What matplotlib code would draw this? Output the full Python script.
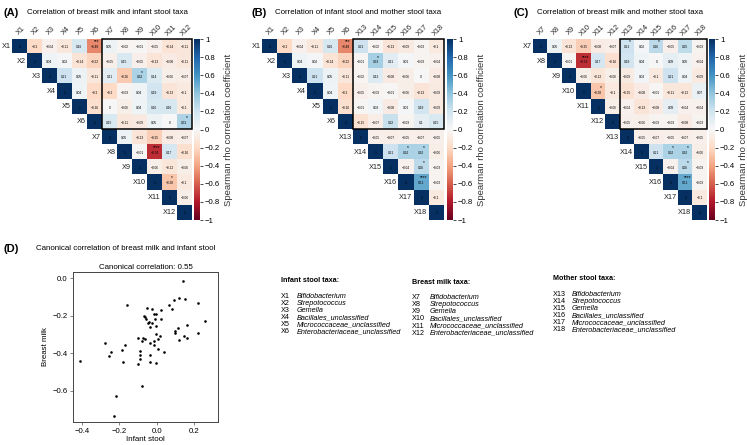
import numpy as np
import matplotlib
matplotlib.use("Agg")
import matplotlib.pyplot as plt
from matplotlib.patches import Rectangle

plt.rcParams['font.family'] = ['Liberation Sans', 'DejaVu Sans']

taxa = ["Bifidobacterium", "Strepotococcus", "Gemella", "Bacillales_unclassified",
        "Micrococcaceae_unclassified", "Enterobacteriaceae_unclassified"]
labels = ["X%d" % i for i in range(1, 19)]

# upper triangle rows, within each sample type
infant_within = [[-0.2, -0.04, -0.11, 0.16, -0.48],
                 [0.04, 0.02, -0.14, -0.22],
                 [0.21, 0.05, -0.11],
                 [0.04, -0.2],
                 [-0.16]]
milk_within = [[0.05, -0.13, -0.25, -0.08, -0.07],
               [-0.01, -0.74, 0.17, -0.16],
               [-0.06, -0.12, -0.06],
               [-0.28, -0.1],
               [-0.06]]
mother_within = [[-0.05, -0.07, -0.05, -0.07, -0.05],
                 [0.21, 0.32, 0.32, -0.06],
                 [-0.04, 0.26, -0.03],
                 [0.51, -0.03],
                 [-0.1]]
# cross blocks (rows x cols)
infant_milk = [[0.05, -0.02, -0.01, -0.05, -0.14, -0.11],
               [-0.05, 0.15, -0.05, -0.13, -0.08, -0.11],
               [0.11, -0.26, 0.32, 0.14, -0.06, -0.07],
               [-0.2, -0.03, 0.04, 0.19, -0.13, -0.1],
               [0, -0.06, 0.04, 0.16, 0.16, -0.1],
               [0.15, -0.11, -0.09, 0.05, 0, 0.31]]
infant_mother = [[0.21, -0.02, -0.13, -0.09, -0.03, -0.1],
                 [-0.01, 0.33, 0.11, 0.01, -0.03, -0.04],
                 [-0.02, 0.13, -0.08, -0.06, 0, -0.08],
                 [-0.05, -0.03, -0.01, -0.06, -0.13, -0.09],
                 [-0.01, 0.03, -0.08, 0.01, 0.19, -0.09],
                 [-0.15, -0.07, 0.22, -0.03, 0.1, 0.15]]
milk_mother = [[0.21, 0.02, 0.26, -0.05, 0.25, -0.03],
               [0.19, 0.04, 0, 0.09, 0.05, -0.04],
               [-0.09, 0.03, -0.1, 0.21, 0.04, -0.09],
               [-0.15, -0.08, -0.01, -0.11, -0.12, 0.07],
               [-0.04, -0.13, -0.08, 0.09, -0.04, -0.04],
               [-0.05, -0.06, -0.03, -0.03, -0.08, -0.03]]
# significance marks (1-based taxa indices)
stars = {(1, 6): "***", (3, 9): "*", (6, 12): "*", (8, 10): "****", (10, 11): "*",
         (2, 14): "*", (14, 16): "*", (14, 17): "*", (15, 17): "*", (16, 17): "****",
         (7, 13): "*", (7, 15): "*"}

cca_infant = [0.143, -0.160, 0.118, 0.152, 0.093, 0.065, 0.083, 0.220, -0.053, -0.023,
              0.026, -0.012, -0.001, -0.067, -0.062, -0.058, 0.022, -0.008, 0.261, -0.042,
              -0.046, -0.023, -0.005, -0.035, 0.113, 0.161, 0.099, 0.099, 0.220, 0.019,
              0.145, -0.003, 0.163, 0.122, -0.277, -0.101, -0.074, -0.062, -0.076, 0.006,
              -0.015, -0.033, -0.015, -0.170, -0.186, 0.010, 0.038, -0.243, -0.087, -0.254,
              -0.035, -0.090, -0.088, -0.414, -0.183, -0.035, -0.003, -0.099, -0.076, -0.220,
              -0.229]
cca_milk = [-0.014, -0.143, -0.108, -0.112, -0.117, -0.145, -0.163, -0.133, -0.161, -0.166,
            -0.172, -0.193, -0.193, -0.200, -0.209, -0.218, -0.219, -0.219, -0.228, -0.234,
            -0.237, -0.239, -0.255, -0.262, -0.265, -0.250, -0.281, -0.294, -0.294, -0.308,
            -0.308, -0.299, -0.320, -0.327, -0.343, -0.317, -0.317, -0.324, -0.335, -0.326,
            -0.335, -0.347, -0.356, -0.358, -0.381, -0.379, -0.395, -0.391, -0.386, -0.416,
            -0.411, -0.407, -0.428, -0.439, -0.448, -0.444, -0.450, -0.458, -0.573, -0.628,
            -0.733]

# assemble full 18x18 matrix
M = np.eye(18)
for off, block in [(0, infant_within), (6, milk_within), (12, mother_within)]:
    for i, row in enumerate(block):
        for k, v in enumerate(row):
            M[off + i, off + i + 1 + k] = v
for r0, c0, block in [(0, 6, infant_milk), (0, 12, infant_mother), (6, 12, milk_mother)]:
    M[r0:r0 + 6, c0:c0 + 6] = np.array(block)

W, H = 747, 445
fig = plt.figure(figsize=(W / 100, H / 100), dpi=100)


def px_axes(x0, y0, x1, y1):
    return fig.add_axes([x0 / W, 1 - y1 / H, (x1 - x0) / W, (y1 - y0) / H])


def fmt(v):
    if v == 0:
        return "0"
    return ("%g" % v).replace("-", "\u2212")


def heatmap(idx, box, cbox, letter, title, lx, tx):
    ax = px_axes(*box)
    sub = M[np.ix_(idx, idx)]
    n = len(idx)
    data = np.ma.masked_where(np.tril(np.ones((n, n)), -1) > 0, sub)
    im = ax.imshow(data, cmap="RdBu", vmin=-1, vmax=1, aspect="auto",
                   interpolation="nearest")
    ax.set_xlim(-0.5, n - 0.5)
    ax.set_ylim(n - 0.5, -0.5)
    ax.axis("off")
    for i in range(n):
        ax.text(i - 0.6, i, labels[idx[i]], ha="right", va="center", fontsize=5.3,
                color="#222222")
        ax.text(i + 0.1, -1.05, labels[idx[i]], ha="center", va="center", fontsize=5.3,
                rotation=45, clip_on=False, color="#222222")
        for j in range(i, n):
            ax.text(j, i + 0.05, fmt(sub[i, j]), ha="center", va="center", fontsize=2.3,
                    color="black")
            s = stars.get((idx[i] + 1, idx[j] + 1))
            if s:
                ax.text(j + 0.15, i - 0.3, s, ha="center", va="center", fontsize=3.5)
    ax.add_patch(Rectangle((n / 2 - 0.5, -0.5), n / 2, n / 2, fill=False,
                           edgecolor="black", lw=1.1, clip_on=False))
    cax = px_axes(*cbox)
    cb = fig.colorbar(im, cax=cax)
    ticks = np.round(np.arange(-1, 1.01, 0.2), 1)
    cb.set_ticks(ticks)
    cb.set_ticklabels([fmt(t) if t != 0 else "0" for t in ticks])
    cb.ax.tick_params(labelsize=5.6, length=2, width=0.5, pad=1.5)
    cb.outline.set_visible(False)
    cb.set_label("Spearman rho correlation coefficient", fontsize=6.8, labelpad=3,
                 color="#333333")
    fig.text(lx / W, 1 - 13 / H, letter, fontsize=8, fontweight="bold", va="center")
    fig.text(tx / W, 1 - 13 / H, title, fontsize=5.7, va="center")


heatmap(list(range(12)), (12, 39, 192, 220), (194, 39, 200, 220), "(A)",
        "Correlation of breast milk and infant stool taxa", 4, 27)
heatmap(list(range(6)) + list(range(12, 18)), (262, 39, 444, 220), (447, 39, 453, 220),
        "(B)", "Correlation of infant stool and mother stool taxa", 251, 275)
heatmap(list(range(6, 18)), (533, 39, 707, 220), (709, 39, 715, 220), "(C)",
        "Correlation of breast milk and mother stool taxa", 514, 537)

# (D) canonical correlation scatter
fig.text(4 / W, 1 - 249 / H, "(D)", fontsize=8, fontweight="bold", va="center")
fig.text(36 / W, 1 - 249 / H, "Canonical correlation of breast milk and infant stool",
         fontsize=5.7, va="center")
ax = px_axes(73, 272, 218, 422)
ax.scatter(cca_infant, cca_milk, s=3.5, color="black", linewidths=0)
ax.set_xlim(-0.449, 0.33)
ax.set_ylim(-0.765, 0.032)
ax.set_xticks([-0.4, -0.2, 0.0, 0.2])
ax.set_yticks([-0.6, -0.4, -0.2, 0.0])
ax.tick_params(labelsize=5.6, length=2, width=0.5, pad=2, color="#555555")
for sp in ax.spines.values():
    sp.set_linewidth(0.7)
    sp.set_color("#444444")
ax.set_xlabel("Infant stool", fontsize=5.7, labelpad=1)
ax.set_ylabel("Breast milk", fontsize=5.7, labelpad=2)
ax.set_title("Canonical correlation: 0.55", fontsize=5.7, pad=2)

# taxa key
columns = [("Infant stool taxa:", labels[0:6], 281, 297, 281, 296),
           ("Breast milk taxa:", labels[6:12], 412, 430, 282, 297.5),
           ("Mother stool taxa:", labels[12:18], 553, 572, 279, 294)]
for head, labs, xl, xn, yh, y0 in columns:
    fig.text(xl / W, 1 - yh / H, head, fontsize=5.2, fontweight="bold", va="center")
    for k, (lab, name) in enumerate(zip(labs, taxa)):
        y = 1 - (y0 + k * 7.15) / H
        fig.text(xl / W, y, lab, fontsize=5.2, va="center")
        fig.text(xn / W, y, name, fontsize=5.2, va="center", style="italic")

fig.savefig("out.png", dpi=100)
